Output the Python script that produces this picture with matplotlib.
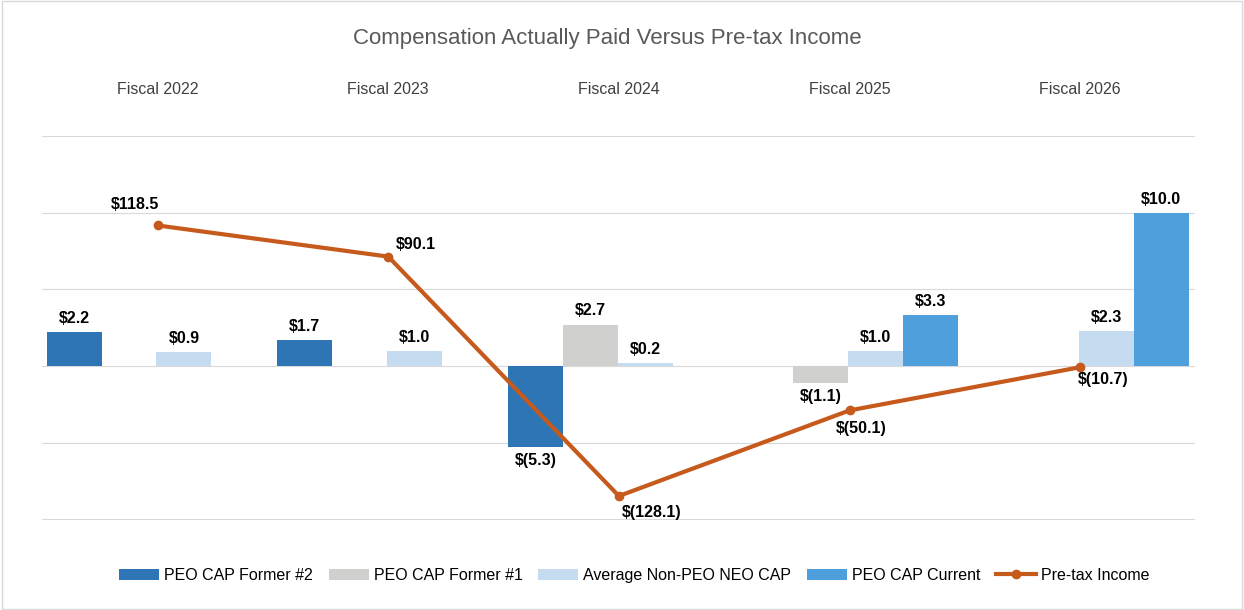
import numpy as np
import matplotlib.pyplot as plt

plt.rcParams['font.family'] = ['Liberation Sans', 'DejaVu Sans']

years = ["Fiscal 2022", "Fiscal 2023", "Fiscal 2024", "Fiscal 2025", "Fiscal 2026"]
former2 = [2.2, 1.7, -5.3, None, None]
former1 = [None, None, 2.7, -1.1, None]
non_peo = [0.9, 1.0, 0.2, 1.0, 2.3]
current = [None, None, None, 3.3, 10.0]
pretax = [118.5, 90.1, -128.1, -50.1, -10.7]

series = [("PEO CAP Former #2", former2, "#2E75B6"),
          ("PEO CAP Former #1", former1, "#D0D0CE"),
          ("Average Non-PEO NEO CAP", non_peo, "#C5DCF0"),
          ("PEO CAP Current", current, "#4E9FDB")]

def money(v):
    return "$%.1f" % v if v >= 0 else "$(%.1f)" % -v

fig = plt.figure(figsize=(12.44, 6.10), dpi=100)
fig.patches.append(plt.Rectangle((0.002, 0.002), 0.996, 0.996, transform=fig.transFigure,
                                 fill=False, edgecolor="#D9D9D9", lw=1))
ax = fig.add_axes([0.034, 0.1475, 0.927, 0.6295])
x = np.arange(len(years))
w = 0.238
handles = []
for i, (name, vals, col) in enumerate(series):
    off = (i - 1.5) * w - 0.005
    xs = [x[j] + off for j, v in enumerate(vals) if v is not None]
    vs = [v for v in vals if v is not None]
    h = ax.bar(xs, vs, width=w, color=col, label=name, zorder=2)
    handles.append(h)
    for xx, v in zip(xs, vs):
        ax.text(xx, v + (0.4 if v >= 0 else -0.4), money(v), ha="center",
                va="bottom" if v >= 0 else "top", fontsize=11.5, fontweight="bold")
ax.set_xlim(-0.5, 4.5)
ax.set_ylim(-10.05, 15)
ax.set_yticks([-10, -5, 0, 5, 10, 15])
ax.grid(axis="y", color="#D9D9D9", lw=0.8, zorder=0)
for s in ax.spines.values():
    s.set_visible(False)
for j, y in enumerate(years):
    ax.text(x[j], 1.12, y, transform=ax.get_xaxis_transform(), ha="center",
            va="center", fontsize=11.5, color="#404040")

ax2 = ax.twinx()
ax2.set_ylim(-150, 200)
ln, = ax2.plot(x, pretax, color="#C55A1C", lw=3, marker="o", ms=6, label="Pre-tax Income", zorder=3)
ax2.axis("off")
ax.tick_params(left=False, right=False, bottom=False, labelleft=False, labelbottom=False)
offs = [(-0.1, 12, "center", "bottom"), (0.12, 4, "center", "bottom"), (0.14, -8, "center", "top"),
        (0.05, -10, "center", "top"), (0.1, -4, "center", "top")]
for j, v in enumerate(pretax):
    dx, dy, ha, va = offs[j]
    ax2.text(x[j] + dx, v + dy, money(v), ha=ha, va=va, fontsize=11.5, fontweight="bold")

fig.text(0.488, 0.937, "Compensation Actually Paid Versus Pre-tax Income", ha="center",
         va="center", fontsize=16, color="#595959")
fig.legend(handles + [ln], [h.get_label() for h in handles] + ["Pre-tax Income"],
           loc="center", bbox_to_anchor=(0.51, 0.057), ncol=5, frameon=False,
           fontsize=11.5, handlelength=2.5, columnspacing=1.0, handletextpad=0.3)
fig.savefig("out.png")
